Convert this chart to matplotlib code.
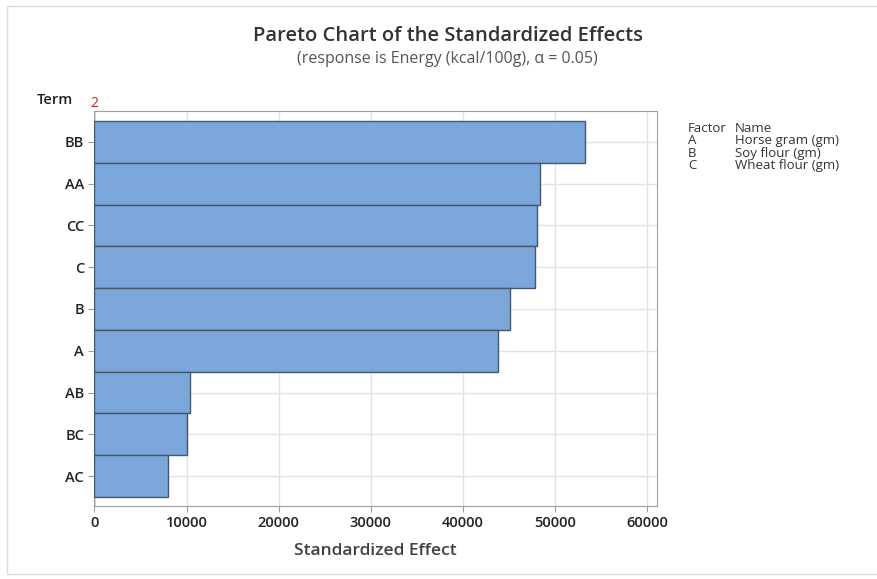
import matplotlib.pyplot as plt
from matplotlib.patches import Rectangle

# data (top to bottom)
terms = ["BB", "AA", "CC", "C", "B", "A", "AB", "BC", "AC"]
effects = [53330, 48370, 48040, 47900, 45180, 43880, 10400, 10000, 8040]
ref_value = 2
x_ticks = [0, 10000, 20000, 30000, 40000, 50000, 60000]
factors = ["A", "B", "C"]
factor_names = ["Horse gram (gm)", "Soy flour (gm)", "Wheat flour (gm)"]

plt.rcParams['font.family'] = ['Open Sans', 'DejaVu Sans']

fig = plt.figure(figsize=(8.78, 5.79), dpi=100)
fig.patches.append(Rectangle((7 / 878, 1 - 574 / 579), 1 - 7 / 878, (574 - 6) / 579,
                             transform=fig.transFigure, fill=False,
                             edgecolor='#dddddd', lw=1))

ax = fig.add_axes([0.1076, 0.1266, 0.6407, 0.6817])

pos = list(range(len(terms)))
ax.barh(pos, effects, height=1.0, color='#7ba6da', edgecolor='#46566b',
        linewidth=1, zorder=3)
ax.axvline(ref_value, color='#c0272d', lw=1, zorder=2)

ax.set_xlim(0, 61100)
ax.set_ylim(8.71, -0.74)
ax.set_yticks(pos)
ax.set_yticklabels(terms)
ax.set_xticks(x_ticks)
ax.set_xticklabels([str(v) for v in x_ticks])
ax.grid(True, color='#e4e4e4', lw=1, zorder=0)
ax.set_axisbelow(True)

for s in ax.spines.values():
    s.set_color('#a0a0a0')
ax.tick_params(colors='#a0a0a0', labelcolor='#222222', labelsize=10.5, length=4)
for lab in ax.get_xticklabels() + ax.get_yticklabels():
    lab.set_fontweight('semibold')

ax.set_xlabel("Standardized Effect", fontsize=12.5, fontweight='semibold',
              color='#404040', labelpad=9)

fig.text(0.51, 0.937, "Pareto Chart of the Standardized Effects", ha='center',
         va='center', fontsize=14.5, fontweight='semibold', color='#333333')
fig.text(0.51, 0.898, "(response is Energy (kcal/100g), \u03b1 = 0.05)", ha='center',
         va='center', fontsize=11.5, color='#555555')

fig.text(55 / 878, 1 - 100 / 579, "Term", ha='center', va='center', fontsize=10.5,
         fontweight='semibold', color='#222222')
ax.text(ref_value, -0.74, "2", ha='center', va='bottom', fontsize=10,
        color='#c0272d', transform=ax.transData)

# factor legend
lx1, lx2 = 688 / 878, 735 / 878
fig.text(lx1, 1 - 128 / 579, "Factor", fontsize=9.5, color='#333333', va='center')
fig.text(lx2, 1 - 128 / 579, "Name", fontsize=9.5, color='#333333', va='center')
for i, (f, n) in enumerate(zip(factors, factor_names)):
    y = 1 - (140.5 + 12.5 * i) / 579
    fig.text(lx1, y, f, fontsize=9.5, color='#333333', va='center')
    fig.text(lx2, y, n, fontsize=9.5, color='#333333', va='center')

fig.savefig("out.png", dpi=100)
